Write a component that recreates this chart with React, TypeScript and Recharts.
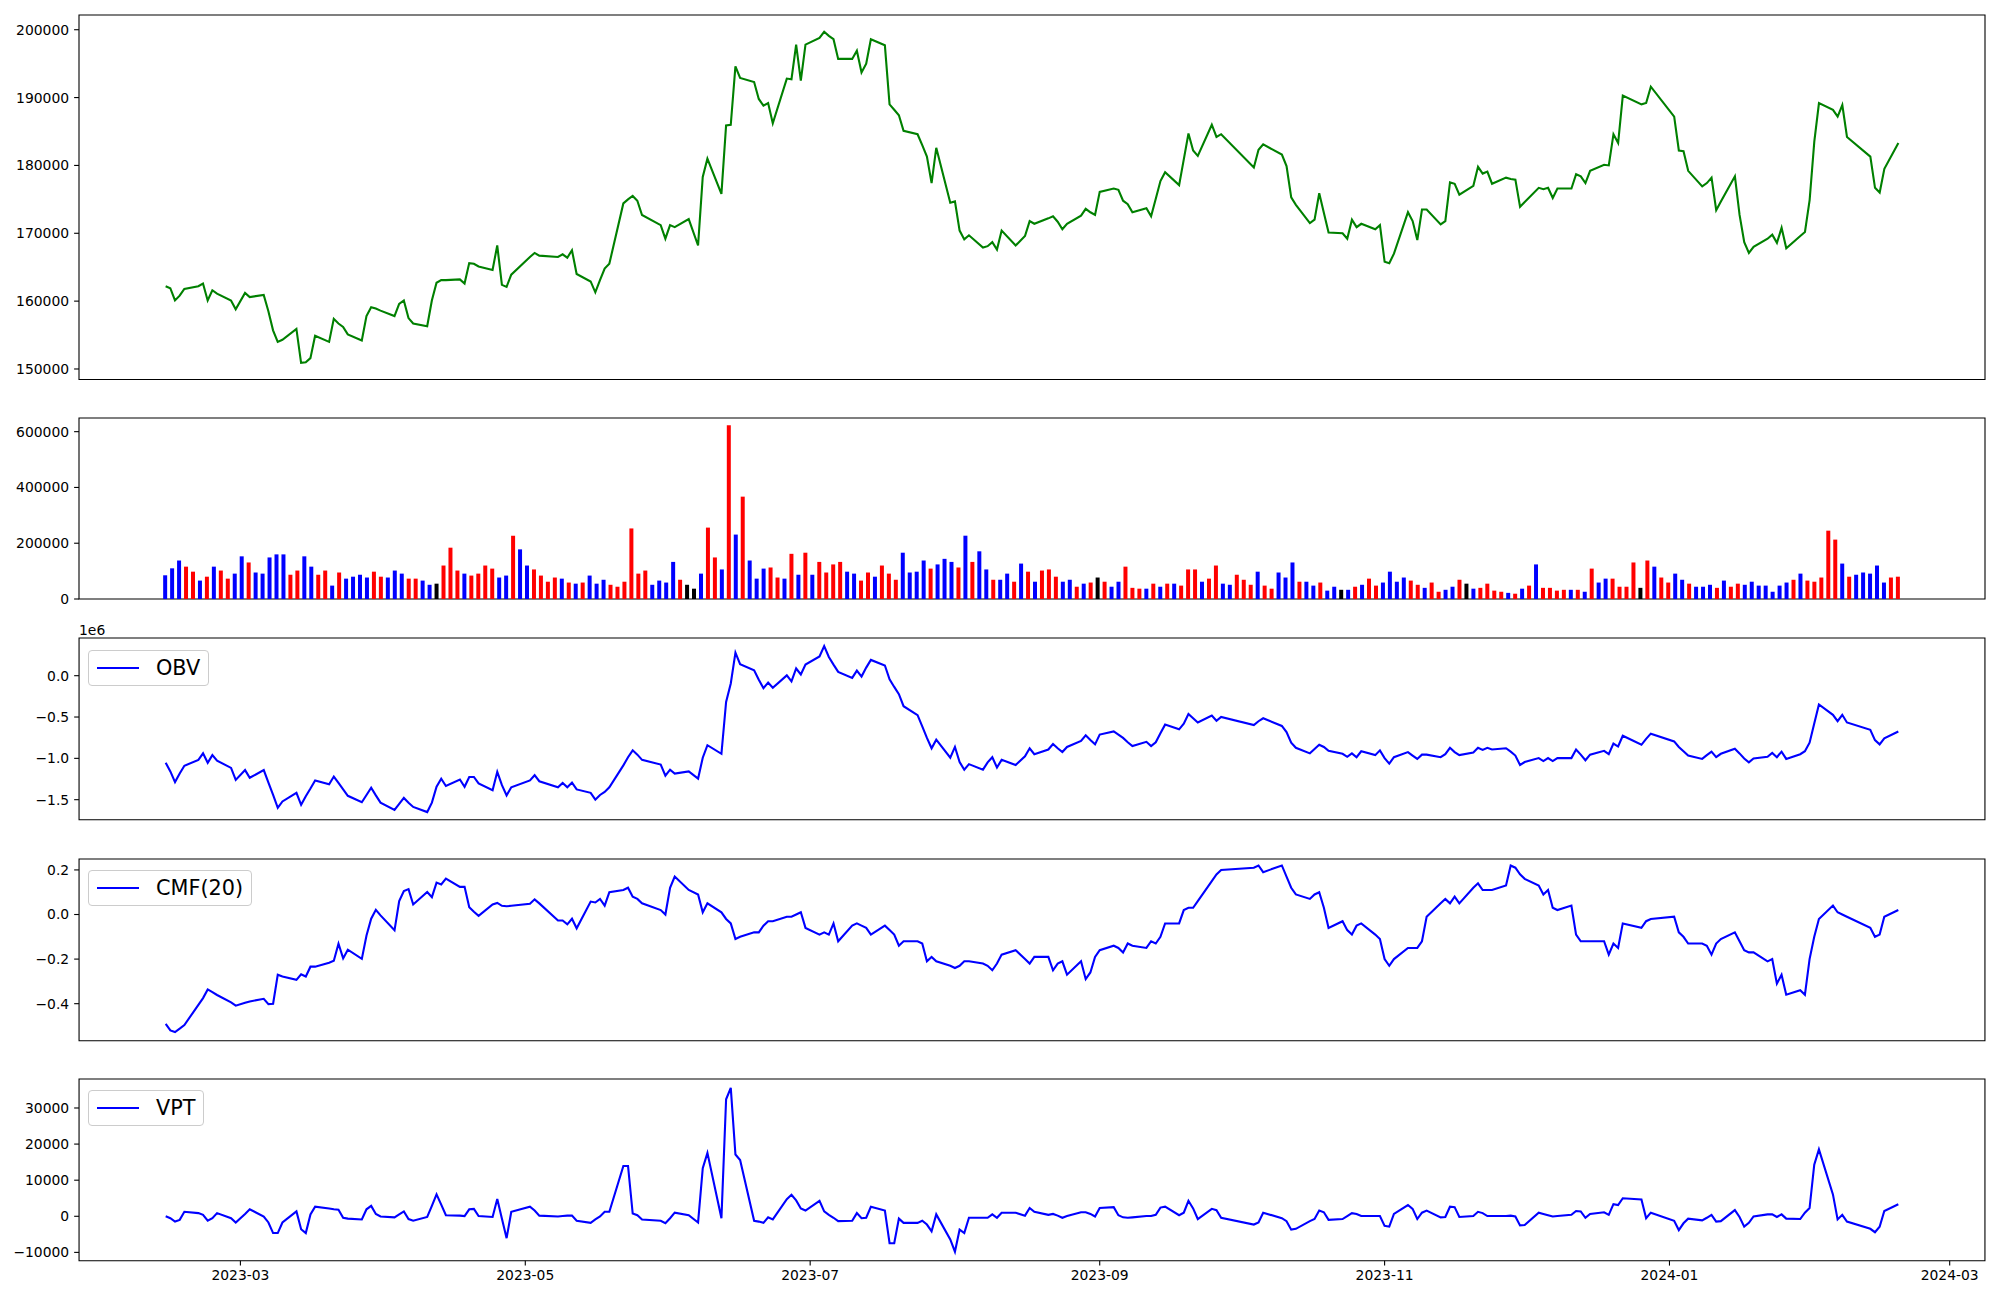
import React from 'react';
import { LineChart, Line, BarChart, Bar, Cell, XAxis, YAxis, ReferenceArea } from 'recharts';

// KRX trading calendar for the plotted year
const firstDay = '2023-02-13';
const lastDay = '2024-02-19';
const holidays = [
  '2023-03-01', '2023-05-01', '2023-05-05', '2023-05-29', '2023-06-06', '2023-08-15',
  '2023-09-28', '2023-09-29', '2023-10-02', '2023-10-03', '2023-10-09', '2023-12-25',
  '2023-12-29', '2024-01-01', '2024-02-09', '2024-02-12',
];

const closePrice = [
  162200, 161900, 160100, 160800, 161800, 162200, 162600, 160100, 161600, 161100, 160100, 158800,
  161200, 160600, 160900, 158500, 155700, 154000, 154300, 155900, 150900, 151000,
  151600, 154900, 154000, 157400, 156700, 156200, 155100, 154200, 157800, 159100, 158900, 158600,
  157800, 159600, 160100, 157500, 156700, 156300, 160100, 162700, 163100, 163100,
  163200, 162600, 165600, 165500, 165100, 164600, 168200, 162400, 162100, 163900,
  166500, 167100, 166700, 166500, 166900, 166400, 167500, 164000, 162900, 161300,
  163100, 164800, 165500, 174400, 175000, 175500, 174800, 172700, 171200, 169200,
  171200, 170900, 172100, 168200, 178300, 181000, 175800, 185900, 186000, 194600,
  192900, 192300, 189800, 188800, 189200, 186200, 192800, 192700, 197800, 192500, 197800,
  198800, 199700, 199100, 198600, 195700, 195700, 196900, 193700, 195000, 198600,
  197700, 189000, 188200, 187400, 185100, 184600, 183000, 181300, 177400, 182600, 174500,
  174700, 170400, 169100, 169700, 167900, 168100, 168700, 167600, 170400, 168200,
  169600, 171800, 171400, 172200, 172500, 171700, 170600, 171400, 172600, 173600, 173100, 172700,
  176100, 176600, 176400, 174800, 174300, 173100, 173700, 172500, 175100, 177700,
  179000, 177100, 180900, 184700, 182200, 181400, 186000, 184200, 184600,
  179700, 182300, 183100, 181600, 179900, 175300, 174200, 171500, 172000, 175900,
  173000, 170100, 170000, 169200, 172000, 170900, 171400, 170600, 171200,
  165800, 165600, 167000, 173100, 171800, 169000, 173500, 173500, 171300, 171800,
  177500, 177300, 175700, 177000, 179800, 178800, 179100, 177300, 178200, 178000, 177900, 173900,
  174600, 176700, 176500, 176700, 175200, 176600, 176600, 178700, 178400, 177400,
  179200, 180100, 180000, 184600, 183300, 190300, 189000, 189200, 191600,
  187200, 182200, 182100, 179200, 176900, 177400, 178200, 173400, 174700, 178400,
  172700, 168700, 167100, 168000, 169200, 169800, 168600, 170800, 167800, 169600, 170200, 174900,
  183500, 189200, 188200, 187200, 188900, 184200, 181300, 176700, 176000, 179500, 183300,
];

const volume = [
  85000, 110000, 138000, 116000, 98000, 66000, 80000, 116000, 102000, 73000,
  91000, 153000, 131000, 95000, 91000, 149000, 160000, 160000, 87000, 102000,
  153000, 116000, 87000, 102000, 48000, 95000, 73000, 80000, 87000, 77000,
  98000, 80000, 77000, 102000, 91000, 73000, 73000, 66000, 51000, 55000,
  120000, 184000, 102000, 91000, 84000, 91000, 120000, 109000, 77000, 84000,
  227000, 178000, 120000, 106000, 84000, 62000, 77000, 73000, 59000, 55000,
  59000, 84000, 55000,
  69000, 51000, 44000, 62000, 253000, 91000, 102000, 51000, 66000, 59000,
  133000, 69000, 51000, 37000, 91000, 256000, 149000, 106000, 623000, 231000,
  367000, 138000, 73000, 109000, 113000, 77000, 73000, 162000, 87000, 166000,
  87000, 133000, 95000, 124000, 133000, 98000, 91000, 66000, 95000, 80000,
  120000, 91000, 69000, 166000, 95000, 98000, 138000, 109000, 124000, 144000,
  133000, 113000, 227000, 133000, 171000, 106000, 69000, 69000, 91000, 62000,
  127000, 98000, 62000,
  102000, 106000, 80000, 62000, 69000, 44000, 55000, 59000, 77000, 62000,
  44000, 62000, 116000, 40000, 37000, 37000, 55000, 44000, 55000, 55000,
  48000, 106000, 106000, 62000, 73000, 120000, 55000, 51000, 87000, 69000,
  51000, 98000, 48000, 37000, 95000, 77000, 131000, 62000, 62000, 48000,
  59000, 30000, 44000, 33000, 33000, 44000, 51000, 73000, 48000, 59000,
  98000, 62000, 77000, 66000, 51000, 40000, 59000, 26000, 33000, 44000,
  69000, 55000, 37000,
  40000, 55000, 30000, 26000, 22000, 19000, 37000, 48000, 124000, 40000,
  40000, 30000, 33000, 33000, 33000, 26000, 109000, 59000, 73000, 73000,
  44000, 44000, 131000, 40000, 138000, 116000, 77000, 59000, 91000, 69000,
  55000, 44000, 44000, 51000, 40000, 66000, 44000, 55000, 51000, 62000,
  48000, 48000, 26000, 48000, 59000, 69000, 91000, 66000, 62000, 77000,
  245000, 213000, 127000, 80000, 87000, 95000, 91000, 120000, 59000, 77000,
  80000,
];

// r = up day, b = down day, k = unchanged
const volumeColor =
  'bbbrrbrbrrbbrbbbbbrrbbrrbrbbbbrrbbbrrbbkrrrbrrrrbbrbbrrrrbrbrbb' +
  'brrrrrrbbbbrkkbrrbrbrbbbrrbrbrbrrrrbbrrbrrrbbbbrbbbrbrbbrbbrbrb' +
  'rrrbbrbrkrbbrrrbrbrbrrrbrrbbrrrbrrbbbrbbrbbkbrbrrbbbbrrbrrbbrkb' +
  'rrrrbrbrbrrrrbrbrbbrrrrkrbrrbbrbbbrbrrbbbbbbbrbrrrrrbrbbbbbrr';

const obv = [
  -1054000, -1158000, -1287000, -1184000, -1090000, -1018000, -940000, -1054000, -961000, -1028000, -1116000, -1261000,
  -1142000, -1235000, -1142000, -1293000, -1443000, -1599000, -1521000, -1417000, -1562000, -1458000,
  -1365000, -1267000, -1313000, -1220000, -1298000, -1376000, -1453000, -1531000, -1443000, -1355000, -1448000, -1536000,
  -1625000, -1552000, -1479000, -1536000, -1588000, -1650000, -1536000, -1344000, -1246000, -1334000,
  -1256000, -1344000, -1225000, -1225000, -1303000, -1386000, -1163000, -1324000, -1448000, -1350000,
  -1267000, -1204000, -1277000, -1350000, -1298000, -1350000, -1293000, -1376000, -1417000, -1500000,
  -1443000, -1407000, -1350000, -1085000, -986000, -903000, -955000, -1018000, -1075000, -1210000,
  -1137000, -1184000, -1158000, -1246000, -992000, -841000, -945000, -317000, -94000, 279000,
  139000, 66000, -48000, -151000, -84000, -146000, 4000, -68000, 87000, 15000, 134000,
  232000, 357000, 227000, 134000, 46000, -27000, 61000, -11000, 98000, 191000,
  123000, -43000, -136000, -224000, -369000, -478000, -613000, -753000, -878000, -774000, -992000,
  -862000, -1044000, -1137000, -1070000, -1137000, -1049000, -986000, -1111000, -1018000, -1080000,
  -976000, -878000, -950000, -893000, -826000, -878000, -924000, -862000, -789000, -722000, -779000, -831000,
  -712000, -675000, -712000, -753000, -805000, -852000, -800000, -852000, -805000, -696000,
  -592000, -649000, -582000, -463000, -515000, -566000, -483000, -546000, -499000,
  -598000, -551000, -515000, -608000, -681000, -810000, -872000, -940000, -888000, -836000,
  -862000, -909000, -945000, -981000, -940000, -986000, -914000, -961000, -903000,
  -997000, -1064000, -986000, -924000, -966000, -1007000, -955000, -955000, -986000, -950000,
  -872000, -924000, -961000, -929000, -872000, -898000, -872000, -893000, -878000, -919000, -966000, -1080000,
  -1044000, -997000, -1033000, -997000, -1033000, -997000, -997000, -893000, -955000, -1023000,
  -955000, -909000, -950000, -821000, -857000, -727000, -836000, -764000, -701000,
  -795000, -862000, -914000, -966000, -1007000, -961000, -919000, -986000, -945000, -883000,
  -940000, -1002000, -1049000, -1002000, -981000, -935000, -986000, -919000, -1007000, -950000, -914000, -810000,
  -577000, -348000, -473000, -551000, -473000, -566000, -655000, -779000, -831000, -758000, -675000,
];

const cmf = [
  -0.491, -0.52, -0.527, -0.512, -0.496, -0.405, -0.375, -0.336, -0.348, -0.361, -0.394, -0.409,
  -0.396, -0.39, -0.378, -0.402, -0.4, -0.27, -0.278, -0.293, -0.268, -0.278,
  -0.234, -0.234, -0.216, -0.207, -0.131, -0.197, -0.158, -0.199, -0.094, -0.019, 0.021, -0.004,
  -0.071, 0.06, 0.105, 0.114, 0.045, 0.101, 0.078, 0.143, 0.135, 0.161,
  0.124, 0.124, 0.033, 0.012, -0.006, 0.045, 0.052, 0.039, 0.037, 0.039,
  0.048, 0.068, 0.05, -0.027, -0.027, -0.044, -0.019, -0.062, 0.058, 0.054,
  0.07, 0.04, 0.1, 0.11, 0.12, 0.08, 0.07, 0.05, 0.02, 0.0,
  0.12, 0.17, 0.11, 0.09, 0.01, 0.05, 0.01, -0.02, -0.04, -0.11,
  -0.1, -0.08, -0.08, -0.05, -0.03, -0.03, -0.01, -0.01, 0.0, 0.01, -0.06,
  -0.09, -0.08, -0.09, -0.04, -0.12, -0.05, -0.04, -0.05, -0.06, -0.09,
  -0.05, -0.07, -0.09, -0.14, -0.12, -0.12, -0.13, -0.21, -0.19, -0.21, -0.23,
  -0.24, -0.23, -0.21, -0.21, -0.22, -0.23, -0.25, -0.22, -0.18, -0.16,
  -0.2, -0.22, -0.19, -0.19, -0.25, -0.22, -0.21, -0.27, -0.21, -0.29, -0.26, -0.19,
  -0.16, -0.14, -0.15, -0.17, -0.13, -0.14, -0.15, -0.12, -0.13, -0.1,
  -0.04, -0.04, 0.02, 0.03, 0.03, 0.06, 0.15, 0.18, 0.2,
  0.21, 0.22, 0.19, 0.22, 0.17, 0.12, 0.09, 0.07, 0.09, 0.1,
  0.03, -0.06, -0.03, -0.07, -0.09, -0.05, -0.04, -0.09, -0.11,
  -0.2, -0.23, -0.2, -0.15, -0.15, -0.15, -0.12, -0.01, 0.05, 0.07,
  0.05, 0.08, 0.05, 0.12, 0.14, 0.11, 0.11, 0.11, 0.13, 0.22, 0.21, 0.18,
  0.16, 0.13, 0.09, 0.11, 0.03, 0.02, 0.04, -0.09, -0.12, -0.12,
  -0.12, -0.12, -0.18, -0.13, -0.15, -0.04, -0.06, -0.03, -0.02,
  -0.01, -0.08, -0.1, -0.13, -0.13, -0.14, -0.18, -0.13, -0.11, -0.08,
  -0.12, -0.16, -0.17, -0.17, -0.21, -0.2, -0.31, -0.27, -0.36, -0.34, -0.36, -0.2,
  -0.1, -0.02, 0.04, 0.01, 0.0, -0.01, -0.06, -0.1, -0.09, -0.01, 0.02,
];

const vpt = [
  0, -530, -1470, -1000, 1240, 880, 410, -1240, -530, 880, -530, -1710,
  650, 1940, -60, -1710, -4650, -4650, -1710, 1350, -3590, -4650,
  530, 2650, 2180, 1940, 1820, -410, -650, -880, 1940, 2880, 650, -60,
  -290, 530, 1350, -760, -1240, -180, 2880, 6060, 3230, 290,
  180, 60, 1940, 2060, 60, -180, 4760, -650, -6060, 1240,
  2650, 1590, 180, -60, 60, 180, 180, -1240, -1820, -880,
  -60, 1240, 1240, 13940, 13940, 760, 290, -880, -1240, -1940,
  -530, 1000, 290, -1710, 13350, 17580, -530, 32400, 35570, 17110,
  15580, -1240, -1470, -1820, -290, -880, 4760, 5940, 4410, 2180, 1590,
  4290, 1350, 410, -410, -1350, -1240, 880, -530, -410, 2650,
  1590, -7470, -7470, -650, -1820, -1820, -1240, -2290, -4180, 530, -6410,
  -9820, -3700, -4650, -410, -410, -410, 530, -410, 1000, 1000,
  180, 2290, 1240, 410, 650, 180, -410, 60, 1120, 1120, 650, -60,
  2290, 2530, 290, -290, -410, -290, 60, 60, 410, 2410,
  2650, 290, 1000, 4290, 2180, -760, 2060, 1710, -410,
  -2290, -1710, 1000, -530, -1350, -3700, -3470, -1350, -760, 1590,
  1120, -1000, -760, 60, 880, 650, 60, 60, 60,
  -2650, -2880, 650, 3120, 2060, -760, 1000, 1590, -290, -180,
  2650, 2530, -180, 60, 1240, 880, 60, 60, 60, 180, -60, -2530,
  -2410, 1000, 650, 290, -60, 60, 410, 1470, 1350, -410,
  650, 1120, 410, 3350, 3120, 5000, 4650, -530, 1000,
  -1240, -3820, -1940, -650, -1120, -410, 410, -1470, -1350, 1710,
  -180, -2880, -1820, -60, 530, 530, -180, 530, -650, -760, 1000, 2290,
  14290, 18520, 6060, -880, 410, -1470, -3470, -4410, -2880, 1470, 3350,
];

const monthTicks = ['2023-03', '2023-05', '2023-07', '2023-09', '2023-11', '2024-01', '2024-03'];
const priceTicks = [150000, 160000, 170000, 180000, 190000, 200000];
const volumeTicks = [0, 200000, 400000, 600000];
const obvTicks = [-1500000, -1000000, -500000, 0];
const cmfTicks = [-0.4, -0.2, 0, 0.2];
const vptTicks = [-10000, 0, 10000, 20000, 30000];

const barColor: Record<string, string> = { r: '#ff0000', b: '#0000ff', k: '#000000' };

function tradingDays(first: string, last: string, closed: string[]) {
  const out: number[] = [];
  const skip = new Set(closed);
  const end = Date.parse(last + 'T00:00:00Z');
  for (let t = Date.parse(first + 'T00:00:00Z'); t <= end; t += 86400000) {
    const d = new Date(t);
    const wd = d.getUTCDay();
    if (wd === 0 || wd === 6) continue;
    if (skip.has(d.toISOString().slice(0, 10))) continue;
    out.push(t);
  }
  return out;
}

const dates = tradingDays(firstDay, lastDay, holidays);
const rows = dates.map((t, i) => ({ t, close: closePrice[i], obv: obv[i], cmf: cmf[i], vpt: vpt[i] }));
const volRows = volume.map((v, i) => ({ i, v, c: barColor[volumeColor[i]] || '#0000ff' }));

const span = dates[dates.length - 1] - dates[0];
const xDomain: [number, number] = [dates[0] - span * 0.05, dates[dates.length - 1] + span * 0.05];
const iDomain: [number, number] = [-(volume.length - 1) * 0.05, (volume.length - 1) * 1.05];
const xTicks = monthTicks.map((m) => Date.parse(m + '-01T00:00:00Z'));

const LEFT = 79;
const RIGHT = 1985;
const PAD = 10;
const FONT = 'DejaVu Sans, sans-serif';
const minus = (s: string) => s.replace('-', '\u2212');

const yAxisProps = {
  width: LEFT,
  type: 'number' as const,
  interval: 0 as const,
  allowDataOverflow: true,
  axisLine: false,
  tickSize: 4.9,
  tickMargin: 5,
  tickLine: { stroke: '#000', strokeWidth: 1.1 },
  tick: { fill: '#000', fontSize: 13.9, fontFamily: FONT },
};

function Frame({ x, y }: { x: [number, number]; y: [number, number] }) {
  return (
    <ReferenceArea
      x1={x[0]}
      x2={x[1]}
      y1={y[0]}
      y2={y[1]}
      fill="none"
      stroke="#000"
      strokeWidth={1.1}
      ifOverflow="visible"
    />
  );
}

function Legend({ label, top }: { label: string; top: number }) {
  return (
    <div
      style={{
        position: 'absolute',
        left: 88,
        top,
        display: 'flex',
        alignItems: 'center',
        padding: '5px 8px',
        border: '1px solid #cccccc',
        borderRadius: 4,
        background: 'rgba(255,255,255,0.8)',
        fontFamily: FONT,
        fontSize: 20.8,
        lineHeight: '24px',
        color: '#000',
      }}
    >
      <span style={{ display: 'inline-block', width: 42, borderTop: '2px solid #0000ff', marginRight: 17 }} />
      <span>{label}</span>
    </div>
  );
}

function IndicatorPanel({
  top,
  bottom,
  dataKey,
  domain,
  ticks,
  format,
  showDates,
}: {
  top: number;
  bottom: number;
  dataKey: string;
  domain: [number, number];
  ticks: number[];
  format: (v: number) => string;
  showDates?: boolean;
}) {
  const axisH = showDates ? 30 : 0;
  return (
    <div style={{ position: 'absolute', left: 0, top: top - PAD }}>
      <LineChart
        width={2000}
        height={bottom - top + PAD + (showDates ? axisH : PAD)}
        data={rows}
        margin={{ top: PAD, right: 2000 - RIGHT, bottom: showDates ? 0 : PAD, left: 0 }}
      >
        <XAxis
          dataKey="t"
          type="number"
          domain={xDomain}
          allowDataOverflow
          hide={!showDates}
          height={axisH}
          ticks={xTicks}
          interval={0}
          axisLine={false}
          tickSize={4.9}
          tickMargin={5}
          tickLine={{ stroke: '#000', strokeWidth: 1.1 }}
          tick={{ fill: '#000', fontSize: 13.9, fontFamily: FONT }}
          tickFormatter={(v: number) => new Date(v).toISOString().slice(0, 7)}
        />
        <YAxis {...yAxisProps} domain={domain} ticks={ticks} tickFormatter={format} />
        <Line
          type="linear"
          dataKey={dataKey}
          stroke="#0000ff"
          strokeWidth={2.1}
          dot={false}
          isAnimationActive={false}
        />
        <Frame x={xDomain} y={domain} />
      </LineChart>
    </div>
  );
}

export default function App() {
  const priceDomain: [number, number] = [148450, 202170];
  const volDomain: [number, number] = [0, 649000];
  return (
    <div style={{ position: 'absolute', left: 0, top: 0, width: 2000, height: 1300, background: '#fff', overflow: 'hidden' }}>
      <div style={{ position: 'absolute', left: 0, top: 15 - PAD }}>
        <LineChart
          width={2000}
          height={379.5 - 15 + 2 * PAD}
          data={rows}
          margin={{ top: PAD, right: 2000 - RIGHT, bottom: PAD, left: 0 }}
        >
          <XAxis dataKey="t" type="number" domain={xDomain} allowDataOverflow hide />
          <YAxis {...yAxisProps} domain={priceDomain} ticks={priceTicks} />
          <Line type="linear" dataKey="close" stroke="#008000" strokeWidth={2.1} dot={false} isAnimationActive={false} />
          <Frame x={xDomain} y={priceDomain} />
        </LineChart>
      </div>

      <div style={{ position: 'absolute', left: 0, top: 418.3 - PAD }}>
        <BarChart
          width={2000}
          height={599.3 - 418.3 + 2 * PAD}
          data={volRows}
          margin={{ top: PAD, right: 2000 - RIGHT, bottom: PAD, left: 0 }}
        >
          <XAxis dataKey="i" type="number" domain={iDomain} allowDataOverflow hide />
          <YAxis {...yAxisProps} domain={volDomain} ticks={volumeTicks} />
          <Bar dataKey="v" barSize={4} isAnimationActive={false}>
            {volRows.map((r) => (
              <Cell key={r.i} fill={r.c} />
            ))}
          </Bar>
          <Frame x={iDomain} y={volDomain} />
        </BarChart>
      </div>

      <IndicatorPanel
        top={638.3}
        bottom={820}
        dataKey="obv"
        domain={[-1742000, 456000]}
        ticks={obvTicks}
        format={(v) => minus((v / 1e6).toFixed(1))}
      />
      <div style={{ position: 'absolute', left: 79, top: 623, fontFamily: FONT, fontSize: 13.9, lineHeight: '14px', color: '#000' }}>
        1e6
      </div>

      <IndicatorPanel
        top={859.3}
        bottom={1041}
        dataKey="cmf"
        domain={[-0.566, 0.249]}
        ticks={cmfTicks}
        format={(v) => minus(v.toFixed(1))}
      />

      <IndicatorPanel
        top={1079.3}
        bottom={1261}
        dataKey="vpt"
        domain={[-12300, 38030]}
        ticks={vptTicks}
        format={(v) => minus(String(v))}
        showDates
      />

      <Legend label="OBV" top={650} />
      <Legend label="CMF(20)" top={870} />
      <Legend label="VPT" top={1090} />
    </div>
  );
}
